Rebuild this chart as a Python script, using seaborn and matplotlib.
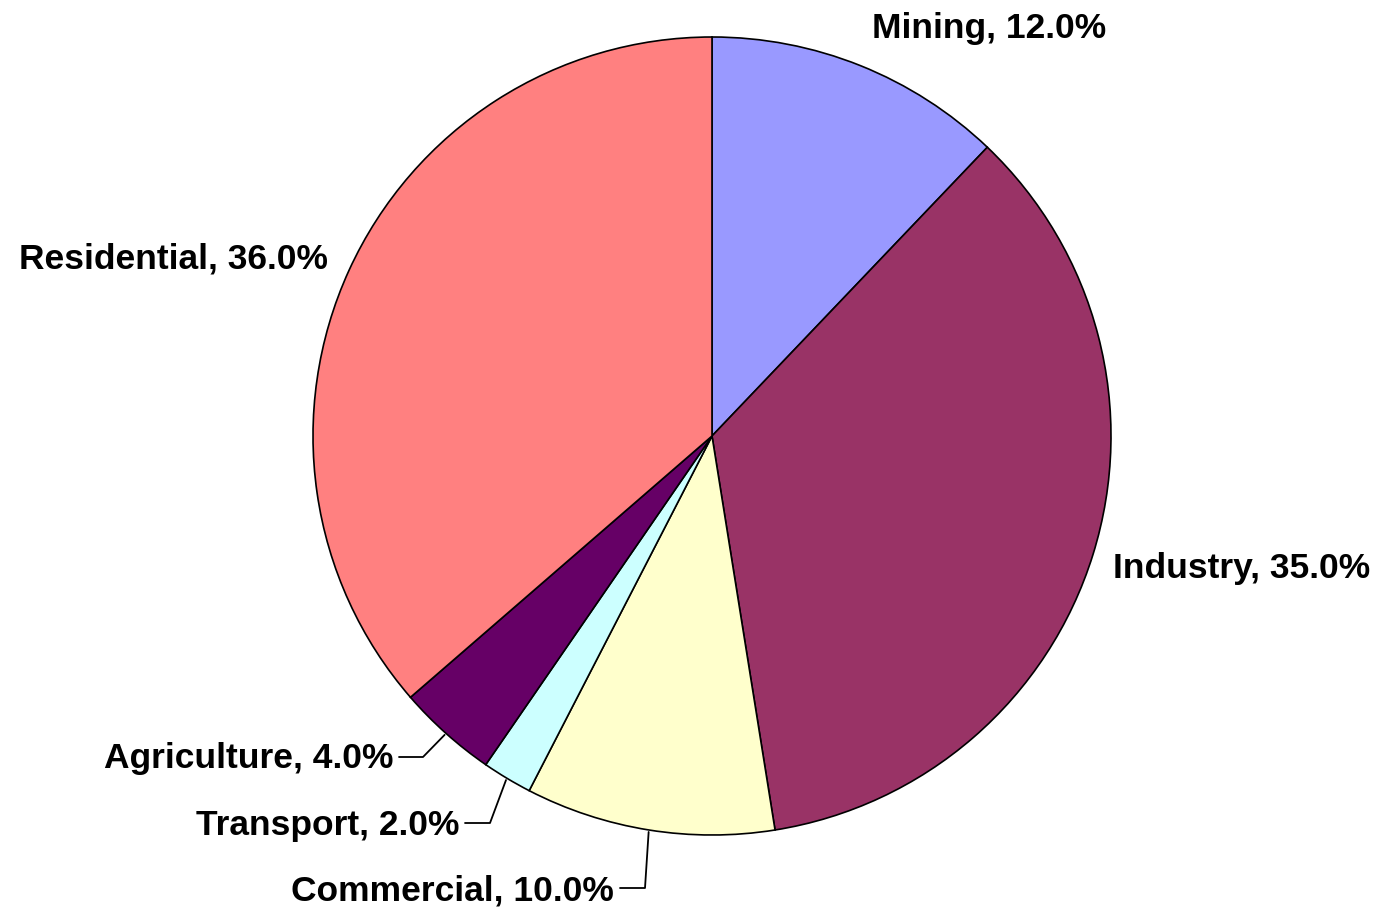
import numpy as np
import matplotlib
matplotlib.use("Agg")
import matplotlib.pyplot as plt
import seaborn as sns

# data
sectors = ["Mining", "Industry", "Commercial", "Transport", "Agriculture", "Residential"]
shares = [12.0, 35.0, 10.0, 2.0, 4.0, 36.0]
colors = ["#9999FF", "#993366", "#FFFFCC", "#CCFFFF", "#660066", "#FF8080"]

sns.set_theme(style="white")
plt.rcParams['font.family'] = ['Liberation Sans', 'DejaVu Sans']

W, H = 1378, 907
fig = plt.figure(figsize=(W / 100, H / 100), dpi=100)
ax = fig.add_axes([0, 0, 1, 1])

cx, cy, r = 712, H - 436, 399
wedges, _ = ax.pie(shares, colors=colors, startangle=90, counterclock=False,
                   center=(cx, cy), radius=r,
                   wedgeprops=dict(edgecolor="black", linewidth=1.2))
ax.set_xlim(0, W)
ax.set_ylim(0, H)
ax.set_aspect("equal")
ax.axis("off")

# label layout in image pixels: (x, baseline y, ha, leader bend, leader end)
layout = {
    "Mining": (872, 38, "left", None, None),
    "Industry": (1113, 578, "left", None, None),
    "Residential": (328, 268, "right", None, None),
    "Agriculture": (393, 768, "right", (423, 757), (399, 757)),
    "Transport": (459, 835, "right", (490, 823), (465, 823)),
    "Commercial": (614, 901, "right", (645, 888), (620, 888)),
}

for w, name, val in zip(wedges, sectors, shares):
    x, yb, ha, bend, end = layout[name]
    ax.text(x, H - yb, f"{name}, {val:.1f}%", ha=ha, va="baseline",
            fontsize=25.5, fontweight="bold", color="black")
    if bend is not None:
        ang = np.deg2rad((w.theta1 + w.theta2) / 2)
        sx = cx + (r + 2) * np.cos(ang)
        sy = cy + (r + 2) * np.sin(ang)
        ax.plot([sx, bend[0], end[0]], [sy, H - bend[1], H - end[1]],
                color="black", linewidth=1.3)

fig.savefig("out.png", dpi=100, facecolor="white")
plt.close(fig)
